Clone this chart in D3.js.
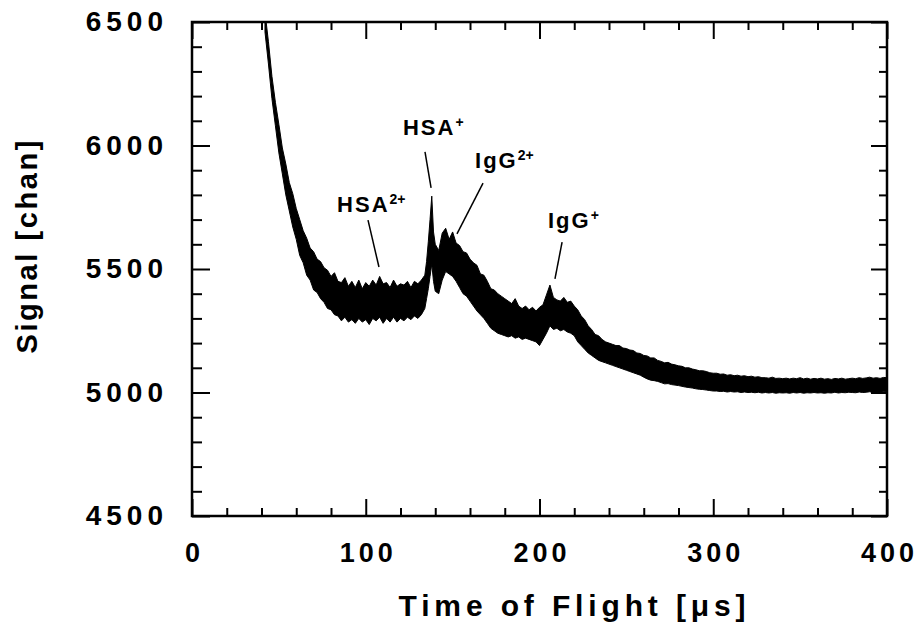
<!DOCTYPE html>
<html>
<head>
<meta charset="utf-8">
<script src="https://cdn.jsdelivr.net/npm/d3@7"></script>
<style>
  body { margin: 0; background: #fff; }
  text { font-family: "Liberation Sans", Arial, Helvetica, sans-serif; font-weight: bold; fill: #000; }
</style>
</head>
<body>
<svg></svg>
<script>
// time of flight [us] and the upper / lower edge of the noisy trace [chan]
const timeUs = [
  42, 44, 46, 48, 50, 52, 54, 56, 58, 60,
  62, 64, 66, 68, 70, 72, 74, 76, 78, 80,
  82, 84, 86, 88, 90, 92, 94, 96, 98, 100,
  102, 104, 106, 108, 110, 112, 114, 116, 118, 120,
  122, 124, 126, 128, 130, 132, 134,
  135, 136, 137, 138, 139, 140,
  142, 144, 146, 148, 150, 152, 154, 156, 158, 160,
  162, 164, 166, 168, 170, 172, 174, 176, 178, 180,
  182, 184, 186, 188, 190, 192, 194, 196, 198, 200,
  202, 204, 206, 208, 210, 212, 214, 216, 218, 220,
  222, 224, 226, 228, 230, 232, 234, 236, 238, 240,
  242, 244, 246, 248, 250, 252, 254, 256, 258, 260,
  262, 264, 266, 268, 270, 272, 274, 276, 278, 280,
  282, 284, 286, 288, 290, 292, 294, 296, 298, 300,
  302, 304, 306, 308, 310, 312, 314, 316, 318, 320,
  322, 324, 326, 328, 330, 332, 334, 336, 338, 340,
  342, 344, 346, 348, 350, 352, 354, 356, 358, 360,
  362, 364, 366, 368, 370, 372, 374, 376, 378, 380,
  382, 384, 386, 388, 390, 392, 394, 396, 398, 400
];
const upperChan = [
  6540, 6420, 6280, 6175, 6085, 5990, 5925, 5850, 5805, 5745,
  5700, 5655, 5625, 5585, 5570, 5540, 5530, 5505, 5495, 5470,
  5485, 5450, 5445, 5465, 5430, 5450, 5425, 5455, 5420, 5445,
  5430, 5455, 5435, 5470, 5440, 5445, 5425, 5455, 5430, 5440,
  5435, 5450, 5425, 5450, 5440, 5455, 5475,
  5530, 5610, 5700, 5795, 5650, 5600,
  5575, 5645, 5665, 5620, 5650, 5605, 5595, 5570, 5565, 5540,
  5525, 5515, 5480, 5475, 5450, 5420, 5415, 5400, 5390, 5380,
  5370, 5360, 5380, 5350, 5340, 5350, 5335, 5345, 5330, 5345,
  5355, 5395, 5435, 5385, 5375, 5370, 5385, 5365, 5370, 5350,
  5335, 5310, 5295, 5270, 5255, 5235, 5230, 5215, 5205, 5200,
  5195, 5190, 5190, 5180, 5178, 5172, 5170, 5160, 5158, 5150,
  5148, 5140, 5140, 5130, 5126, 5120, 5122, 5115, 5112, 5108,
  5106, 5100, 5100, 5095, 5092, 5088, 5088, 5085, 5080, 5078,
  5078, 5074, 5075, 5070, 5072, 5068, 5070, 5066, 5068, 5064,
  5066, 5062, 5064, 5060, 5060, 5058, 5062, 5057, 5058, 5056,
  5058, 5055, 5058, 5056, 5060, 5055, 5058, 5054, 5057, 5055,
  5058, 5054, 5056, 5053, 5057, 5055, 5058, 5054, 5056, 5058,
  5056, 5060, 5057, 5059, 5062, 5058, 5060, 5057, 5061, 5060
];
const lowerChan = [
  6460, 6330, 6190, 6080, 5970, 5885, 5800, 5735, 5670, 5620,
  5555, 5525, 5475, 5455, 5415, 5405, 5380, 5365, 5340, 5335,
  5315, 5310, 5290, 5305, 5285, 5295, 5280, 5300, 5285, 5295,
  5275, 5300, 5290, 5305, 5280, 5300, 5285, 5305, 5285, 5300,
  5290, 5305, 5295, 5310, 5300, 5315, 5340,
  5380, 5420, 5470, 5520, 5450, 5410,
  5400, 5455, 5490, 5480, 5470, 5450, 5425, 5400, 5390, 5370,
  5350, 5330, 5315, 5300, 5280, 5260, 5250, 5240, 5235, 5230,
  5225, 5230, 5220, 5225, 5215, 5220, 5215, 5210, 5205, 5190,
  5215, 5240, 5270, 5255, 5260, 5250, 5255, 5245, 5240, 5230,
  5205, 5190, 5175, 5160, 5150, 5140, 5130, 5125, 5120, 5115,
  5110, 5105, 5100, 5095, 5090, 5085, 5080, 5075, 5070, 5062,
  5055, 5050, 5048, 5045, 5040, 5035, 5036, 5032, 5030, 5028,
  5025, 5022, 5020, 5018, 5015, 5013, 5012, 5010, 5008, 5006,
  5006, 5004, 5005, 5002, 5004, 5002, 5003, 5000, 5002, 5000,
  5001, 4999, 5001, 4998, 5000, 4998, 5000, 4997, 4999, 4998,
  4999, 4997, 5000, 4998, 5000, 4997, 4999, 4998, 5000, 4998,
  4999, 4997, 4999, 4998, 5001, 4998, 5000, 4999, 5001, 5000,
  4999, 5002, 5000, 5001, 5003, 5000, 5002, 5001, 5003, 5002
];

const xMajor = [0, 100, 200, 300, 400];
const xMinor = [20, 40, 60, 80, 120, 140, 160, 180, 220, 240, 260, 280, 320, 340, 360, 380];
const yMajor = [4500, 5000, 5500, 6000, 6500];
const yMinor = [4600, 4700, 4800, 4900, 5100, 5200, 5300, 5400, 5600, 5700, 5800, 5900, 6100, 6200, 6300, 6400];

// peak labels: text anchor and leader line, in data units
const peakName = ["HSA", "HSA", "IgG", "IgG"];
const peakCharge = ["2+", "+", "2+", "+"];
const labelT = [83.5, 121.4, 162.9, 204.9];
const labelV = [5731, 6042, 5909, 5666];
const leaderT0 = [101.3, 134.1, 167.5, 213.0];
const leaderV0 = [5698, 5974, 5848, 5609];
const leaderT1 = [107.6, 137.6, 152.5, 208.9];
const leaderV1 = [5508, 5828, 5642, 5460];

const svgWidth = 918, svgHeight = 628;
const margin = { top: 22, right: 31, bottom: 112, left: 192 };
const width = svgWidth - margin.left - margin.right;
const height = svgHeight - margin.top - margin.bottom;

const svg = d3.select("svg")
  .attr("width", svgWidth)
  .attr("height", svgHeight);

const g = svg.append("g")
  .attr("transform", "translate(" + margin.left + "," + margin.top + ")");

const x = d3.scaleLinear().domain([0, 400]).range([0, width]);
const y = d3.scaleLinear().domain([4500, 6500]).range([height, 0]);

g.append("clipPath").attr("id", "plotclip")
  .append("rect").attr("width", width).attr("height", height);

const trace = timeUs.map((t, i) => ({ t: t, hi: upperChan[i], lo: lowerChan[i] }));

const band = d3.area()
  .x(d => x(d.t))
  .y0(d => y(d.lo))
  .y1(d => y(d.hi));

g.append("path")
  .datum(trace)
  .attr("clip-path", "url(#plotclip)")
  .attr("fill", "#000")
  .attr("stroke", "#000")
  .attr("stroke-width", 1)
  .attr("stroke-linejoin", "miter")
  .attr("d", band);

// axes: ticks point inward on all four sides
function styleAxis(sel, size, spacing) {
  sel.select(".domain").remove();
  sel.selectAll("line").attr("stroke", "#000").attr("stroke-width", 2);
  sel.selectAll("text")
    .attr("font-size", size)
    .attr("letter-spacing", spacing)
    .attr("fill", "#000");
}

g.append("g").attr("transform", "translate(0," + height + ")")
  .call(d3.axisBottom(x).tickValues(xMajor).tickSize(-17).tickPadding(27).tickFormat(d3.format("d")))
  .call(styleAxis, 27, 4)
  .selectAll("text").attr("dx", 2);
g.append("g").attr("transform", "translate(0," + height + ")")
  .call(d3.axisBottom(x).tickValues(xMinor).tickSize(-8).tickFormat(""))
  .call(styleAxis, 27, 4);
g.append("g")
  .call(d3.axisTop(x).tickValues(xMajor).tickSize(-17).tickFormat(""))
  .call(styleAxis, 27, 4);
g.append("g")
  .call(d3.axisTop(x).tickValues(xMinor).tickSize(-8).tickFormat(""))
  .call(styleAxis, 27, 4);

g.append("g")
  .call(d3.axisLeft(y).tickValues(yMajor).tickSize(-18).tickPadding(24).tickFormat(d3.format("d")))
  .call(styleAxis, 28, 5);
g.append("g")
  .call(d3.axisLeft(y).tickValues(yMinor).tickSize(-10).tickFormat(""))
  .call(styleAxis, 28, 5);
g.append("g").attr("transform", "translate(" + width + ",0)")
  .call(d3.axisRight(y).tickValues(yMajor).tickSize(-16).tickFormat(""))
  .call(styleAxis, 28, 5);
g.append("g").attr("transform", "translate(" + width + ",0)")
  .call(d3.axisRight(y).tickValues(yMinor).tickSize(-8).tickFormat(""))
  .call(styleAxis, 28, 5);

g.append("rect")
  .attr("width", width)
  .attr("height", height)
  .attr("fill", "none")
  .attr("stroke", "#000")
  .attr("stroke-width", 2.5);

// axis titles
g.append("text")
  .attr("x", 380)
  .attr("y", height + 100)
  .attr("text-anchor", "middle")
  .attr("font-size", 30)
  .attr("textLength", 347)
  .attr("lengthAdjust", "spacing")
  .text("Time of Flight  [\u03bcs]");

svg.append("text")
  .attr("transform", "translate(37,247) rotate(-90)")
  .attr("text-anchor", "middle")
  .attr("font-size", 29)
  .attr("textLength", 213)
  .attr("lengthAdjust", "spacing")
  .text("Signal  [chan]");

// peak annotations
peakName.forEach((name, i) => {
  g.append("line")
    .attr("x1", x(leaderT0[i])).attr("y1", y(leaderV0[i]))
    .attr("x2", x(leaderT1[i])).attr("y2", y(leaderV1[i]))
    .attr("stroke", "#000")
    .attr("stroke-width", 1.5);
  const lab = g.append("text")
    .attr("x", x(labelT[i]))
    .attr("y", y(labelV[i]))
    .attr("font-size", 22)
    .attr("letter-spacing", 2);
  lab.append("tspan").text(name);
  lab.append("tspan")
    .attr("dy", -8)
    .attr("font-size", 14)
    .attr("letter-spacing", 0)
    .text(peakCharge[i]);
});
</script>
</body>
</html>
